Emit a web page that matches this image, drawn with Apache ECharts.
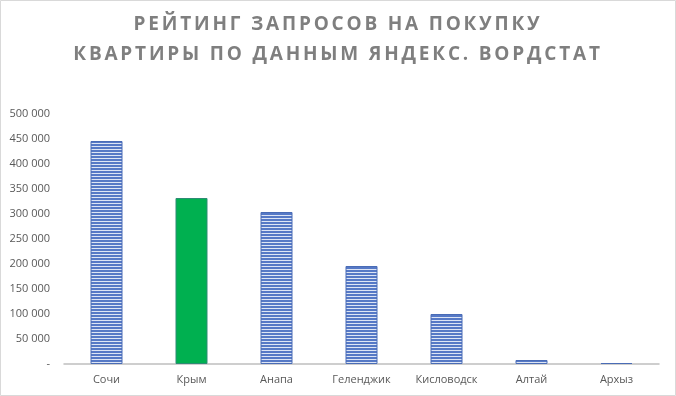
<!DOCTYPE html>
<html><head><meta charset="utf-8">
<script src="https://cdn.jsdelivr.net/npm/echarts@6/dist/echarts.min.js"></script>
<style>html,body{margin:0;padding:0;background:#fff}
#wrap{position:relative;width:676px;height:396px}
#c{position:absolute;left:0;top:0;width:676px;height:396px}
#t{position:absolute;left:0;top:0;width:676px;height:80px}</style>
</head><body><div id="wrap"><div id="c"></div><div id="t"></div></div>
<script>
var categories = ['Сочи','Крым','Анапа','Геленджик','Кисловодск','Алтай','Архыз'];
var values = [446000, 332000, 304000, 196000, 100000, 8000, 2000];
var highlightIndex = 1;
var titleLines = ['РЕЙТИНГ ЗАПРОСОВ НА ПОКУПКУ','КВАРТИРЫ ПО ДАННЫМ ЯНДЕКС. ВОРДСТАТ'];

var pc = document.createElement('canvas');
pc.width = 4; pc.height = 3;
var px = pc.getContext('2d');
px.fillStyle = '#dde5f5'; px.fillRect(0,0,4,3);
px.fillStyle = '#5679c6'; px.fillRect(0,0,4,2);

var chart = echarts.init(document.getElementById('c'), null, {renderer:'canvas'});
chart.setOption({
  backgroundColor:'#fff',
  animation:false,
  grid:{left:64, right:17, top:114, bottom:32},
  xAxis:{
    type:'category', data:categories,
    axisLine:{lineStyle:{color:'#bfbfbf', width:1.5}},
    axisTick:{show:false},
    axisLabel:{color:'#595959', fontSize:11, fontFamily:'Open Sans', margin:10}
  },
  yAxis:{
    type:'value', min:0, max:500000, interval:50000,
    splitLine:{show:false}, axisLine:{show:false}, axisTick:{show:false},
    axisLabel:{color:'#595959', fontSize:11, fontFamily:'Open Sans', margin:14,
      formatter:function(v){ return v===0 ? '-' : String(v).replace(/\B(?=(\d{3})+(?!\d))/g,' '); }}
  },
  series:[{
    type:'bar', barWidth:32,
    data: values.map(function(v,i){
      return i===highlightIndex
        ? {value:v, itemStyle:{color:'#00b050', borderColor:'#2e8b74', borderWidth:1}}
        : {value:v};
    }),
    itemStyle:{color:{image:pc, repeat:'repeat'}, borderColor:'#4a6cb6', borderWidth:1}
  }],
  graphic:[{type:'rect', shape:{x:0.5,y:0.5,width:675,height:395}, style:{fill:null, stroke:'#d9d9d9', lineWidth:1}, silent:true}]
});

var tchart = echarts.init(document.getElementById('t'), null, {renderer:'svg'});
tchart.setOption({
  animation:false,
  title: titleLines.map(function(s, i){
    return {text:s, left:'center', top: 8 + i*30,
      textStyle:{fontFamily:'Open Sans', fontWeight:'bold', fontSize:19, color:'#7f7f7f'}};
  })
});
function spaceTitle(){
  var texts = document.querySelectorAll('#t text');
  texts.forEach(function(el){
    if (titleLines.indexOf(el.textContent) >= 0) {
      el.style.letterSpacing = '2.8px';
    }
  });
}
spaceTitle();
tchart.on('finished', spaceTitle);
</script></body></html>
